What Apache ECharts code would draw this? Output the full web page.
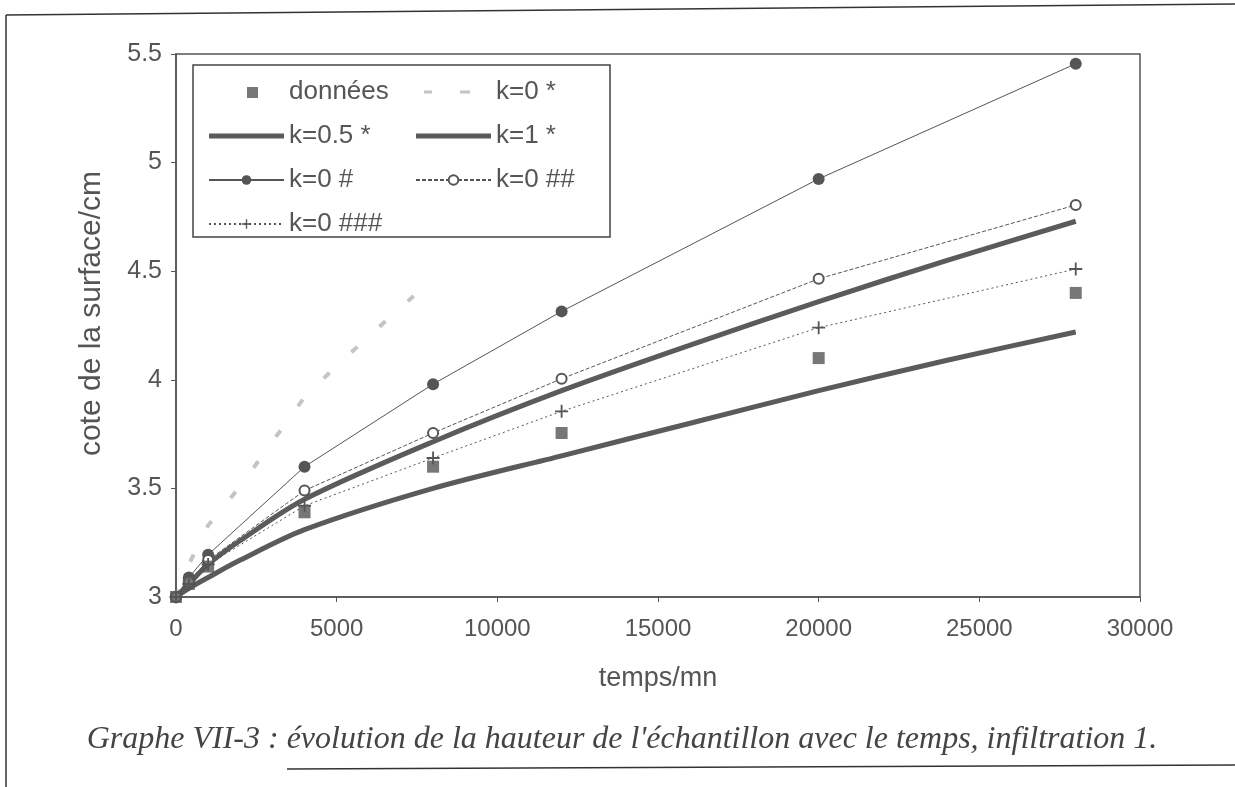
<!DOCTYPE html>
<html>
<head>
<meta charset="utf-8">
<script src="https://cdn.jsdelivr.net/npm/echarts@6/dist/echarts.min.js"></script>
<style>
html,body{margin:0;padding:0;background:#fff;}
#chart{width:1235px;height:787px;}
</style>
</head>
<body>
<div id="chart"></div>
<script>
// ---- data ----
var tMeasured = [0, 400, 1000, 4000, 8000, 12000, 20000, 28000];
var donnees   = [3.00, 3.06, 3.14, 3.39, 3.60, 3.755, 4.10, 4.40];
var k0hash1   = [3.00, 3.09, 3.195, 3.60, 3.98, 4.315, 4.925, 5.455];
var k0hash2   = [3.00, 3.07, 3.17, 3.49, 3.755, 4.005, 4.465, 4.805];
var k0hash3   = [3.00, 3.06, 3.15, 3.42, 3.64, 3.855, 4.24, 4.51];

var tStar0    = [0, 400, 1000, 2000, 3000, 4000, 5000, 6000, 7000, 8000];
var k0star    = [3.00, 3.15, 3.33, 3.51, 3.715, 3.92, 4.065, 4.20, 4.334, 4.465];

var tSim      = [0, 400, 1000, 2000, 4000, 8000, 12000, 16000, 20000, 24000, 28000];
var k05star   = [3.00, 3.06, 3.15, 3.26, 3.45, 3.715, 3.95, 4.16, 4.36, 4.55, 4.73];
var k1star    = [3.00, 3.04, 3.09, 3.17, 3.31, 3.50, 3.65, 3.80, 3.95, 4.09, 4.22];

var xTicks = [0, 30000, 5000];
var yTicks = [3, 5.5, 0.5];

function pairs(xs, ys){ return xs.map(function(x,i){ return [x, ys[i]]; }); }

var C = '#555555';
var FONT = 'Liberation Sans';
var plusPath = 'path://M4.3,0H5.7V4.3H10V5.7H5.7V10H4.3V5.7H0V4.3H4.3Z';
// legend icons (corner points keep the 75x12 box)
var iconThick  = 'path://M0,0L0,0M75,12L75,12M0,3.5H75V8.5H0Z';
var iconSquare = 'path://M0,0L0,0M75,12L75,12M38,1H49V12H38Z';
var iconDash   = 'path://M0,0L0,0M75,12L75,12M8,4.5H16V7.5H8ZM44,4.5H54V7.5H44Z';

var legendText = {color:C, fontFamily:FONT, fontSize:26, lineHeight:26};

var chart = echarts.init(document.getElementById('chart'), null, {renderer:'canvas'});
chart.setOption({
  animation:false,
  backgroundColor:'#fff',
  grid:{left:176, right:95, top:54, bottom:190, show:true, borderColor:C, borderWidth:1.5, backgroundColor:'transparent'},
  xAxis:{
    type:'value', min:xTicks[0], max:xTicks[1], interval:xTicks[2],
    name:'temps/mn', nameLocation:'middle', nameGap:68, nameMoveOverlap:false,
    nameTextStyle:{color:C, fontFamily:FONT, fontSize:27},
    axisLine:{lineStyle:{color:C, width:1.5}},
    axisTick:{show:true, length:5, inside:false, lineStyle:{color:C}},
    axisLabel:{color:C, fontFamily:FONT, fontSize:24, margin:20, formatter:function(v){return String(v);}},
    splitLine:{show:false}
  },
  yAxis:{
    type:'value', min:yTicks[0], max:yTicks[1], interval:yTicks[2],
    name:'cote de la surface/cm', nameLocation:'middle', nameGap:69, nameRotate:90, nameMoveOverlap:false,
    nameTextStyle:{color:C, fontFamily:FONT, fontSize:30, padding:[0,0,0,24]},
    axisLine:{show:true, lineStyle:{color:C, width:1.5}},
    axisTick:{show:true, length:5, inside:false, lineStyle:{color:C}},
    axisLabel:{color:C, fontFamily:FONT, fontSize:25, margin:14},
    splitLine:{show:false}
  },
  legend:[
    {left:203, top:74, orient:'vertical', itemWidth:75, itemHeight:12, itemGap:18, textStyle:legendText,
     data:[{name:'données', icon:iconSquare},{name:'k=0.5 *', icon:iconThick},'k=0 #','k=0 ###']},
    {left:410, top:74, orient:'vertical', itemWidth:75, itemHeight:12, itemGap:18, textStyle:legendText,
     data:[{name:'k=0 *', icon:iconDash},{name:'k=1 *', icon:iconThick},'k=0 ##']}
  ],
  graphic:[
    {type:'rect', shape:{x:193,y:65,width:417,height:172}, style:{fill:'#fff', stroke:'#444', lineWidth:1.5}, z:-1, silent:true},
    {type:'line', shape:{x1:6,y1:15,x2:1235,y2:4}, style:{stroke:'#333', lineWidth:1.5}, silent:true},
    {type:'line', shape:{x1:6,y1:15,x2:6,y2:787}, style:{stroke:'#333', lineWidth:1.5}, silent:true},
    {type:'line', shape:{x1:287,y1:769,x2:1235,y2:765}, style:{stroke:'#333', lineWidth:1.5}, silent:true},
    {type:'text', x:622, y:740,
     style:{text:"Graphe VII-3 : évolution de la hauteur de l'échantillon avec le temps, infiltration 1.",
            font:"italic 32px 'Liberation Serif'", fill:'#444', align:'center', verticalAlign:'middle',
            textAlign:'center', textVerticalAlign:'middle'}, silent:true}
  ],
  series:[
    {name:'k=0 *', type:'line', data:pairs(tStar0,k0star), showSymbol:false, symbol:'none',
     lineStyle:{color:'#c4c4c4', width:4, type:[8,30]}, itemStyle:{color:'#c4c4c4'}, z:1},
    {name:'k=0.5 *', type:'line', data:pairs(tSim,k05star), smooth:0.3, symbol:'none',
     lineStyle:{color:'#5b5b5b', width:5}, itemStyle:{color:'#5b5b5b'}, z:2},
    {name:'k=1 *', type:'line', data:pairs(tSim,k1star), smooth:0.3, symbol:'none',
     lineStyle:{color:'#5b5b5b', width:5}, itemStyle:{color:'#5b5b5b'}, z:2},
    {name:'k=0 #', type:'line', data:pairs(tMeasured,k0hash1), symbol:'circle', symbolSize:12,
     lineStyle:{color:C, width:1}, itemStyle:{color:C}, z:3},
    {name:'k=0 ##', type:'line', data:pairs(tMeasured,k0hash2), symbol:'emptyCircle', symbolSize:10,
     lineStyle:{color:C, width:1, type:[4,2]}, itemStyle:{color:C, borderWidth:1.8}, z:3},
    {name:'k=0 ###', type:'line', data:pairs(tMeasured,k0hash3), symbol:plusPath, symbolSize:13,
     lineStyle:{color:C, width:1, type:[2,3]}, itemStyle:{color:C}, z:3},
    {name:'données', type:'scatter', data:pairs(tMeasured,donnees), symbol:'rect', symbolSize:12,
     itemStyle:{color:C}, z:4}
  ]
});
</script>
</body>
</html>
